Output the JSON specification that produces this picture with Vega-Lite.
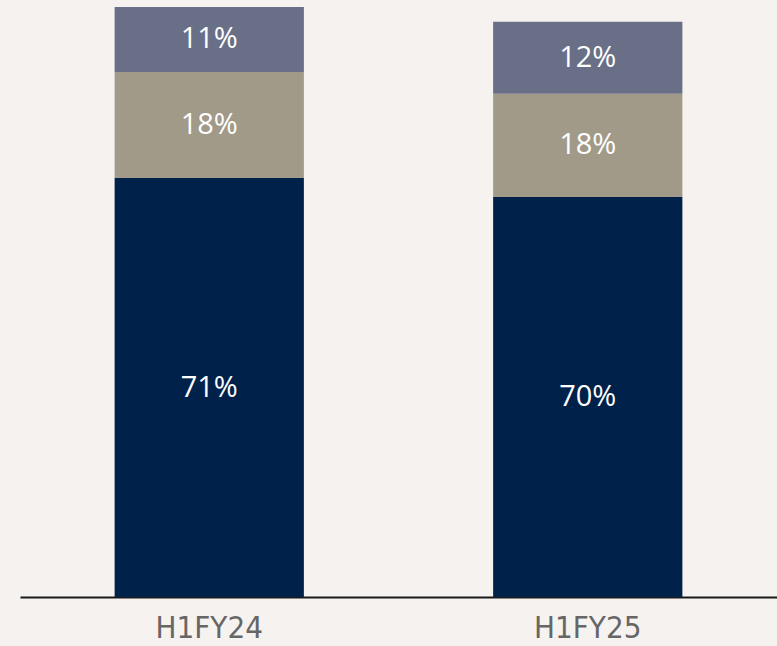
{
  "$schema": "https://vega.github.io/schema/vega-lite/v6.json",
  "width": 757,
  "height": 597,
  "autosize": {"type": "none"},
  "padding": {"left": 20, "top": 0, "right": 0, "bottom": 49},
  "background": "#f5f2ef",
  "config": {"view": {"stroke": null}},
  "data": {
    "values": [
      {"period": "H1FY24", "segment": "A", "ord": 1, "value": 71, "label": "71%"},
      {"period": "H1FY24", "segment": "B", "ord": 2, "value": 18, "label": "18%"},
      {"period": "H1FY24", "segment": "C", "ord": 3, "value": 11, "label": "11%"},
      {"period": "H1FY25", "segment": "A", "ord": 1, "value": 67.8, "label": "70%"},
      {"period": "H1FY25", "segment": "B", "ord": 2, "value": 17.5, "label": "18%"},
      {"period": "H1FY25", "segment": "C", "ord": 3, "value": 12.2, "label": "12%"}
    ]
  },
  "transform": [
    {"stack": "value", "groupby": ["period"], "sort": [{"field": "ord", "order": "ascending"}], "as": ["v0", "v1"]},
    {"calculate": "(datum.v0 + datum.v1) / 2", "as": "mid"}
  ],
  "encoding": {
    "x": {
      "field": "period",
      "type": "nominal",
      "scale": {"paddingInner": 0.5, "paddingOuter": 0.25},
      "axis": {
        "title": null,
        "labelAngle": 0,
        "ticks": false,
        "domainColor": "#1a1a1a",
        "domainWidth": 2,
        "labelColor": "#666666",
        "labelFont": "DejaVu Sans Condensed",
        "labelFontSize": 31,
        "labelPadding": 16
      }
    }
  },
  "layer": [
    {
      "mark": {"type": "bar"},
      "encoding": {
        "y": {"field": "v0", "type": "quantitative", "scale": {"domain": [0, 101.19], "nice": false}, "axis": null},
        "y2": {"field": "v1"},
        "color": {
          "field": "segment",
          "type": "nominal",
          "scale": {"domain": ["A", "B", "C"], "range": ["#00214a", "#a19a88", "#686f86"]},
          "legend": null
        }
      }
    },
    {
      "mark": {"type": "text", "color": "#ffffff", "font": "Open Sans", "fontSize": 29, "baseline": "middle", "align": "center"},
      "encoding": {
        "y": {"field": "mid", "type": "quantitative", "scale": {"domain": [0, 101.19], "nice": false}},
        "text": {"field": "label"}
      }
    }
  ]
}
